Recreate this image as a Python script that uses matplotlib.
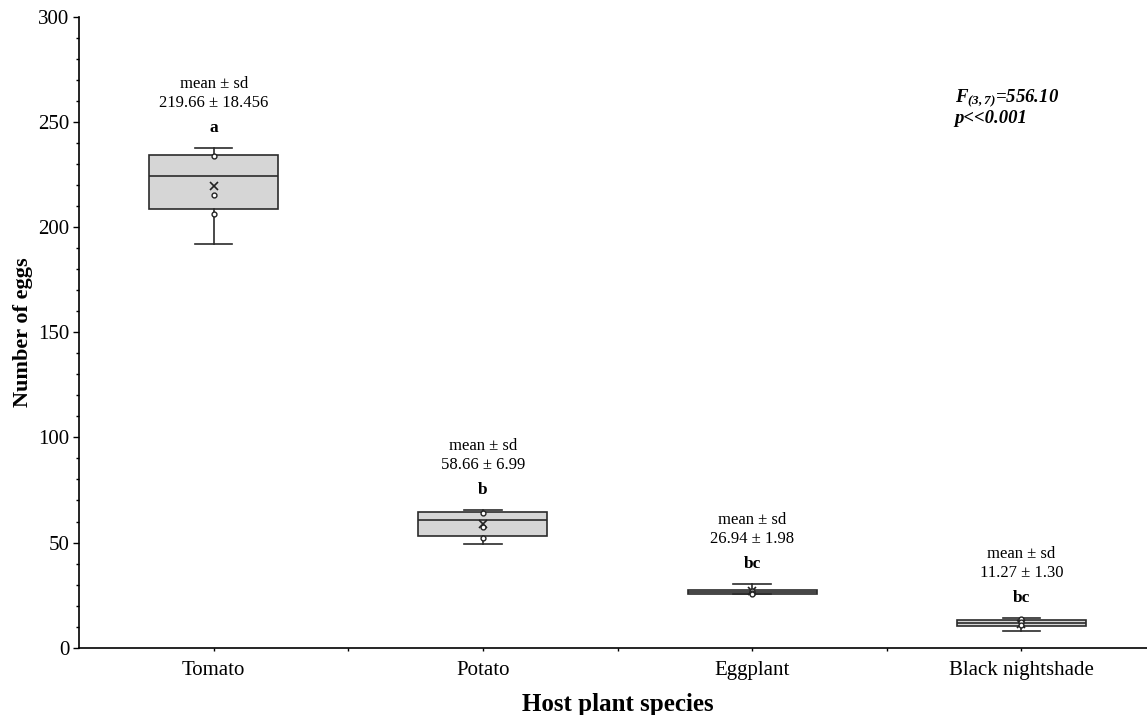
import matplotlib
matplotlib.use("Agg")
import matplotlib.pyplot as plt
from matplotlib.ticker import MultipleLocator, FixedLocator

# --- DATA ---
species = ["Tomato", "Potato", "Eggplant", "Black nightshade"]
whis_lo = [191.8, 49.3, 25.3, 8.1]
q1 = [208.6, 53.1, 25.6, 10.5]
median = [224.4, 60.7, 26.6, 11.6]
q3 = [234.4, 64.6, 27.6, 13.0]
whis_hi = [237.5, 65.5, 30.3, 14.0]
means = [219.66, 58.66, 26.94, 11.27]
inner_pts = [[233.7, 215.4, 206.2], [64.2, 57.2, 52.3], [27.0, 26.2, 25.4], [13.7, 12.2, 10.6]]
mean_sd = ["219.66 \u00b1 18.456", "58.66 \u00b1 6.99", "26.94 \u00b1 1.98", "11.27 \u00b1 1.30"]
letters = ["a", "b", "bc", "bc"]
stat_line1 = r"$F_{(3,7)}$=556.10"
stat_line2 = "p<<0.001"

plt.rcParams["font.family"] = ["Liberation Serif", "DejaVu Serif"]
plt.rcParams["mathtext.fontset"] = "custom"
plt.rcParams["mathtext.it"] = "Liberation Serif:italic:bold"
plt.rcParams["mathtext.rm"] = "Liberation Serif:italic:bold"

fig = plt.figure(figsize=(11.47, 7.15), dpi=100)
ax = fig.add_axes([79 / 1147, (715 - 647.7) / 715, 1077 / 1147, 631 / 715])

stats = []
for i in range(len(species)):
    stats.append(dict(whislo=whis_lo[i], q1=q1[i], med=median[i], q3=q3[i],
                      whishi=whis_hi[i], mean=means[i], fliers=[]))

pos = list(range(len(species)))
ax.bxp(stats, positions=pos, widths=0.48, capwidths=0.14, patch_artist=True,
       showmeans=True, showfliers=False,
       boxprops=dict(facecolor="#d6d6d6", edgecolor="#2b2b2b", linewidth=1.2),
       medianprops=dict(color="#2b2b2b", linewidth=1.2),
       whiskerprops=dict(color="#2b2b2b", linewidth=1.2),
       capprops=dict(color="#2b2b2b", linewidth=1.2),
       meanprops=dict(marker="x", markeredgecolor="#222222", markersize=6, markeredgewidth=1.2))

# inner points
for i, pts in enumerate(inner_pts):
    ax.plot([pos[i]] * len(pts), pts, "o", mfc="white", mec="#222222", ms=3.5, mew=1.0, zorder=5)

# annotations above each box
for i in range(len(species)):
    ax.annotate(letters[i], (pos[i], whis_hi[i]), xytext=(0, 20), textcoords="offset pixels",
                ha="center", va="center", fontsize=12.5, fontweight="bold")
    ax.annotate(mean_sd[i], (pos[i], whis_hi[i]), xytext=(0, 45), textcoords="offset pixels",
                ha="center", va="center", fontsize=12)
    ax.annotate("mean \u00b1 sd", (pos[i], whis_hi[i]), xytext=(0, 64), textcoords="offset pixels",
                ha="center", va="center", fontsize=12)

ax.text(0.813, 0.871, stat_line1, transform=ax.transAxes, fontsize=13.5,
        fontweight="bold", style="italic", ha="left", va="center")
ax.text(0.813, 0.839, stat_line2, transform=ax.transAxes, fontsize=13.5,
        fontweight="bold", style="italic", ha="left", va="center")

ax.set_xlim(-0.5, 3.5)
ax.set_ylim(0, 300)
ax.set_xticks(pos)
ax.set_xticklabels(species, fontsize=15)
ax.xaxis.set_minor_locator(FixedLocator([0.5, 1.5, 2.5]))
ax.yaxis.set_major_locator(MultipleLocator(50))
ax.yaxis.set_minor_locator(MultipleLocator(10))
ax.tick_params(axis="y", which="major", length=4, width=1, labelsize=15, pad=3)
ax.tick_params(axis="y", which="minor", length=2, width=1)
ax.tick_params(axis="x", which="both", length=2.5, width=1, pad=7)

for s in ["top", "right"]:
    ax.spines[s].set_visible(False)
for s in ["left", "bottom"]:
    ax.spines[s].set_linewidth(1.2)

ax.set_ylabel("Number of eggs", fontsize=16, fontweight="bold")
ax.yaxis.set_label_coords(-0.043, 0.5)
ax.set_xlabel("Host plant species", fontsize=18, fontweight="bold")
ax.xaxis.set_label_coords(0.5, -0.072)

fig.savefig("out.png", dpi=100)
